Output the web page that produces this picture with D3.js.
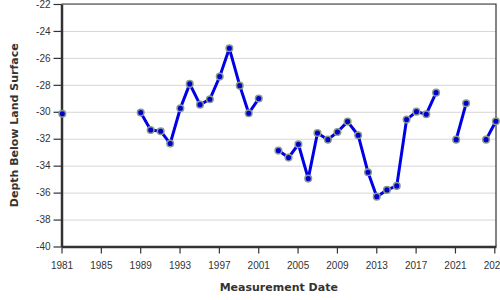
<!DOCTYPE html>
<html>
<head>
<meta charset="utf-8">
<script src="https://cdn.jsdelivr.net/npm/d3@7.9.0/dist/d3.min.js"></script>
<style>
  body { margin: 0; background: #fff; }
  svg { display: block; font-family: "DejaVu Sans", Verdana, sans-serif; }
  .tick text { fill: #333; font-size: 10px; }
  .axis-title { font-weight: bold; font-size: 11px; fill: #333; }
</style>
</head>
<body>
<div id="chart"></div>
<script>
// measurement dates and depths (ft below land surface, negative)
const dates = [
  '1981-02-01', '1989-01-20', '1990-01-25', '1991-02-01', '1992-01-20',
  '1993-02-01', '1994-01-15', '1995-02-01', '1996-02-01', '1997-02-01',
  '1998-01-25', '1999-02-15', '2000-01-15', '2001-01-20', '2003-01-20',
  '2004-02-01', '2005-02-01', '2006-02-01', '2007-01-10', '2008-02-01',
  '2009-01-20', '2010-02-01', '2011-03-01', '2012-03-01', '2013-01-20',
  '2014-02-01', '2015-02-01', '2016-02-01', '2017-02-01', '2018-02-01',
  '2019-02-01', '2021-02-15', '2022-02-20', '2024-03-01', '2025-03-01'
];
const depths = [
  -30.15, -30.06, -31.35, -31.44, -32.36,
  -29.74, -27.93, -29.47, -29.07, -27.39,
  -25.29, -28.06, -30.11, -29.02, -32.88,
  -33.40, -32.41, -34.96, -31.57, -32.07,
  -31.50, -30.73, -31.74, -34.49, -36.30,
  -35.80, -35.50, -30.58, -29.99, -30.18,
  -28.58, -32.07, -29.37, -32.07, -30.70
];
const yTicks = [-22, -24, -26, -28, -30, -32, -34, -36, -38, -40];
const xTickYears = [1981, 1985, 1989, 1993, 1997, 2001, 2005, 2009, 2013, 2017, 2021, 2025];

const data = dates.map((d, i) => ({ date: new Date(d + 'T00:00'), depth: depths[i] }));

// split into runs wherever a year or more is missing
const segments = [];
data.forEach((d, i) => {
  if (i === 0 || (d.date - data[i - 1].date) / 864e5 > 500) segments.push([]);
  segments[segments.length - 1].push(d);
});

const width = 500, height = 300;
const margin = { top: 4, right: 4, bottom: 54, left: 61.5 };

const svg = d3.select('#chart')
  .append('svg')
  .attr('width', width)
  .attr('height', height);

const x = d3.scaleTime()
  .domain([new Date('1981-01-01T00:00'), new Date('2025-03-05T00:00')])
  .range([margin.left, width - margin.right]);
const y = d3.scaleLinear()
  .domain([-40, -22])
  .range([height - margin.bottom + 0.5, margin.top]);

// grid lines
svg.append('g')
  .attr('transform', `translate(${margin.left},0)`)
  .call(d3.axisLeft(y).tickValues(yTicks)
    .tickSize(-(width - margin.right - margin.left)).tickFormat(''))
  .call(g => g.select('.domain').remove())
  .selectAll('line')
    .attr('stroke', '#d6d6d6');

// frame top/right
svg.append('path')
  .attr('d', `M${margin.left},${margin.top}H${width - margin.right}V${y(-40)}`)
  .attr('fill', 'none')
  .attr('stroke', '#333')
  .attr('stroke-width', 1.2);

// axes
svg.append('g')
  .attr('transform', `translate(0,${y(-40)})`)
  .call(d3.axisBottom(x)
    .tickValues(xTickYears.map(yr => new Date(yr, 0, 1)))
    .tickFormat(d3.timeFormat('%Y'))
    .tickSize(7).tickSizeOuter(0).tickPadding(8))
  .call(g => g.select('.domain').attr('stroke', '#333').attr('stroke-width', 2.5))
  .call(g => g.selectAll('.tick line').attr('stroke', '#333').attr('stroke-width', 1.2));

svg.append('g')
  .attr('transform', `translate(${margin.left},0)`)
  .call(d3.axisLeft(y).tickValues(yTicks)
    .tickFormat(d => String(d))
    .tickSize(8).tickSizeOuter(0).tickPadding(3))
  .call(g => g.select('.domain').attr('stroke', '#333').attr('stroke-width', 2.5))
  .call(g => g.selectAll('.tick line').attr('stroke', '#333').attr('stroke-width', 1.2));

// titles
svg.append('text')
  .attr('class', 'axis-title')
  .attr('x', (margin.left + width - margin.right) / 2)
  .attr('y', 291)
  .attr('text-anchor', 'middle')
  .text('Measurement Date');

svg.append('text')
  .attr('class', 'axis-title')
  .attr('transform', `translate(18,${(margin.top + y(-40)) / 2}) rotate(-90)`)
  .attr('text-anchor', 'middle')
  .text('Depth Below Land Surface');

// line + points
const line = d3.line()
  .x(d => x(d.date))
  .y(d => y(d.depth));

svg.append('g')
  .selectAll('path')
  .data(segments)
  .join('path')
    .attr('d', line)
    .attr('fill', 'none')
    .attr('stroke', '#0000e6')
    .attr('stroke-width', 3)
    .attr('stroke-linejoin', 'round');

svg.append('g')
  .selectAll('circle')
  .data(data)
  .join('circle')
    .attr('cx', d => x(d.date))
    .attr('cy', d => y(d.depth))
    .attr('r', 3.3)
    .attr('fill', '#0000cc')
    .attr('stroke', '#8a9a8a')
    .attr('stroke-width', 1.5);
</script>
</body>
</html>
